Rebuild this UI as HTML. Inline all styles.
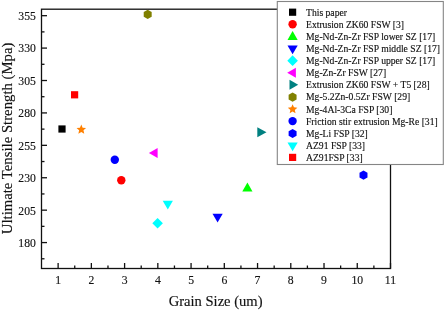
<!DOCTYPE html>
<html><head><meta charset="utf-8"><style>
html,body{margin:0;padding:0;background:#fff;width:445px;height:310px;overflow:hidden}
svg{display:block;will-change:transform}
text{font-family:"Liberation Serif",serif;fill:#111;stroke:#111;stroke-width:0.15px}
</style></head><body>
<svg width="445" height="310" viewBox="0 0 445 310">
<rect x="41.5" y="9.2" width="349.0" height="259.3" fill="none" stroke="#111" stroke-width="1.3"/>
<line x1="41.5" y1="242.57" x2="47.0" y2="242.57" stroke="#111" stroke-width="1.3"/>
<text transform="translate(35.9,246.97) scale(0.9,1)" text-anchor="end" font-size="13">180</text>
<line x1="41.5" y1="210.16" x2="47.0" y2="210.16" stroke="#111" stroke-width="1.3"/>
<text transform="translate(35.9,214.56) scale(0.9,1)" text-anchor="end" font-size="13">205</text>
<line x1="41.5" y1="177.75" x2="47.0" y2="177.75" stroke="#111" stroke-width="1.3"/>
<text transform="translate(35.9,182.15) scale(0.9,1)" text-anchor="end" font-size="13">230</text>
<line x1="41.5" y1="145.33" x2="47.0" y2="145.33" stroke="#111" stroke-width="1.3"/>
<text transform="translate(35.9,149.73) scale(0.9,1)" text-anchor="end" font-size="13">255</text>
<line x1="41.5" y1="112.92" x2="47.0" y2="112.92" stroke="#111" stroke-width="1.3"/>
<text transform="translate(35.9,117.32) scale(0.9,1)" text-anchor="end" font-size="13">280</text>
<line x1="41.5" y1="80.51" x2="47.0" y2="80.51" stroke="#111" stroke-width="1.3"/>
<text transform="translate(35.9,84.91) scale(0.9,1)" text-anchor="end" font-size="13">305</text>
<line x1="41.5" y1="48.09" x2="47.0" y2="48.09" stroke="#111" stroke-width="1.3"/>
<text transform="translate(35.9,52.49) scale(0.9,1)" text-anchor="end" font-size="13">330</text>
<line x1="41.5" y1="15.68" x2="47.0" y2="15.68" stroke="#111" stroke-width="1.3"/>
<text transform="translate(35.9,20.08) scale(0.9,1)" text-anchor="end" font-size="13">355</text>
<line x1="41.5" y1="258.78" x2="44.5" y2="258.78" stroke="#111" stroke-width="1.3"/>
<line x1="41.5" y1="226.36" x2="44.5" y2="226.36" stroke="#111" stroke-width="1.3"/>
<line x1="41.5" y1="193.95" x2="44.5" y2="193.95" stroke="#111" stroke-width="1.3"/>
<line x1="41.5" y1="161.54" x2="44.5" y2="161.54" stroke="#111" stroke-width="1.3"/>
<line x1="41.5" y1="129.13" x2="44.5" y2="129.13" stroke="#111" stroke-width="1.3"/>
<line x1="41.5" y1="96.71" x2="44.5" y2="96.71" stroke="#111" stroke-width="1.3"/>
<line x1="41.5" y1="64.30" x2="44.5" y2="64.30" stroke="#111" stroke-width="1.3"/>
<line x1="41.5" y1="31.89" x2="44.5" y2="31.89" stroke="#111" stroke-width="1.3"/>
<line x1="58.12" y1="268.5" x2="58.12" y2="263.0" stroke="#111" stroke-width="1.3"/>
<text transform="translate(58.12,283.7) scale(0.9,1)" text-anchor="middle" font-size="13">1</text>
<line x1="91.36" y1="268.5" x2="91.36" y2="263.0" stroke="#111" stroke-width="1.3"/>
<text transform="translate(91.36,283.7) scale(0.9,1)" text-anchor="middle" font-size="13">2</text>
<line x1="124.60" y1="268.5" x2="124.60" y2="263.0" stroke="#111" stroke-width="1.3"/>
<text transform="translate(124.60,283.7) scale(0.9,1)" text-anchor="middle" font-size="13">3</text>
<line x1="157.83" y1="268.5" x2="157.83" y2="263.0" stroke="#111" stroke-width="1.3"/>
<text transform="translate(157.83,283.7) scale(0.9,1)" text-anchor="middle" font-size="13">4</text>
<line x1="191.07" y1="268.5" x2="191.07" y2="263.0" stroke="#111" stroke-width="1.3"/>
<text transform="translate(191.07,283.7) scale(0.9,1)" text-anchor="middle" font-size="13">5</text>
<line x1="224.31" y1="268.5" x2="224.31" y2="263.0" stroke="#111" stroke-width="1.3"/>
<text transform="translate(224.31,283.7) scale(0.9,1)" text-anchor="middle" font-size="13">6</text>
<line x1="257.55" y1="268.5" x2="257.55" y2="263.0" stroke="#111" stroke-width="1.3"/>
<text transform="translate(257.55,283.7) scale(0.9,1)" text-anchor="middle" font-size="13">7</text>
<line x1="290.79" y1="268.5" x2="290.79" y2="263.0" stroke="#111" stroke-width="1.3"/>
<text transform="translate(290.79,283.7) scale(0.9,1)" text-anchor="middle" font-size="13">8</text>
<line x1="324.02" y1="268.5" x2="324.02" y2="263.0" stroke="#111" stroke-width="1.3"/>
<text transform="translate(324.02,283.7) scale(0.9,1)" text-anchor="middle" font-size="13">9</text>
<line x1="357.26" y1="268.5" x2="357.26" y2="263.0" stroke="#111" stroke-width="1.3"/>
<text transform="translate(357.26,283.7) scale(0.9,1)" text-anchor="middle" font-size="13">10</text>
<line x1="390.50" y1="268.5" x2="390.50" y2="263.0" stroke="#111" stroke-width="1.3"/>
<text transform="translate(390.50,283.7) scale(0.9,1)" text-anchor="middle" font-size="13">11</text>
<line x1="74.74" y1="268.5" x2="74.74" y2="265.5" stroke="#111" stroke-width="1.3"/>
<line x1="107.98" y1="268.5" x2="107.98" y2="265.5" stroke="#111" stroke-width="1.3"/>
<line x1="141.21" y1="268.5" x2="141.21" y2="265.5" stroke="#111" stroke-width="1.3"/>
<line x1="174.45" y1="268.5" x2="174.45" y2="265.5" stroke="#111" stroke-width="1.3"/>
<line x1="207.69" y1="268.5" x2="207.69" y2="265.5" stroke="#111" stroke-width="1.3"/>
<line x1="240.93" y1="268.5" x2="240.93" y2="265.5" stroke="#111" stroke-width="1.3"/>
<line x1="274.17" y1="268.5" x2="274.17" y2="265.5" stroke="#111" stroke-width="1.3"/>
<line x1="307.40" y1="268.5" x2="307.40" y2="265.5" stroke="#111" stroke-width="1.3"/>
<line x1="340.64" y1="268.5" x2="340.64" y2="265.5" stroke="#111" stroke-width="1.3"/>
<line x1="373.88" y1="268.5" x2="373.88" y2="265.5" stroke="#111" stroke-width="1.3"/>
<text transform="translate(215.6,306.3) scale(0.96,1)" text-anchor="middle" font-size="15.2">Grain Size (um)</text>
<text transform="translate(12,138.4) rotate(-90)" text-anchor="middle" font-size="14.75">Ultimate Tensile Strength (Mpa)</text>
<rect x="58.40" y="125.40" width="7.2" height="7.2" fill="#000"/>
<circle cx="121.30" cy="180.20" r="4.2" fill="#ff0000"/>
<polygon points="247.40,182.60 252.50,191.40 242.30,191.40" fill="#00ff00"/>
<polygon points="212.50,213.80 222.70,213.80 217.60,222.60" fill="#0000ff"/>
<polygon points="157.60,217.90 162.90,223.20 157.60,228.50 152.30,223.20" fill="#00ffff"/>
<polygon points="148.90,153.00 157.60,148.10 157.60,157.90" fill="#ff00ff"/>
<polygon points="257.30,127.30 266.50,132.30 257.30,137.30" fill="#008080"/>
<polygon points="147.70,9.80 143.72,12.10 143.72,16.70 147.70,19.00 151.68,16.70 151.68,12.10" fill="#808000"/>
<polygon points="81.30,124.60 82.65,127.74 86.06,128.05 83.49,130.31 84.24,133.65 81.30,131.90 78.36,133.65 79.11,130.31 76.54,128.05 79.95,127.74" fill="#ff8000"/>
<circle cx="114.80" cy="159.80" r="4.2" fill="#0000ff"/>
<polygon points="363.50,170.50 359.52,172.80 359.52,177.40 363.50,179.70 367.48,177.40 367.48,172.80" fill="#0000ff"/>
<polygon points="162.70,200.80 172.90,200.80 167.80,209.60" fill="#00ffff"/>
<rect x="71.00" y="91.20" width="7.2" height="7.2" fill="#ff0000"/>
<rect x="277.3" y="1.5" width="166" height="163" fill="#fff" stroke="#858585" stroke-width="1.1"/>
<text transform="translate(306.0,15.70) scale(0.91,1)" font-size="10.6">This paper</text>
<text transform="translate(306.0,27.80) scale(0.91,1)" font-size="10.6">Extrusion ZK60 FSW [3]</text>
<text transform="translate(306.0,39.90) scale(0.91,1)" font-size="10.6">Mg-Nd-Zn-Zr FSP lower SZ [17]</text>
<text transform="translate(306.0,52.00) scale(0.91,1)" font-size="10.6">Mg-Nd-Zn-Zr FSP middle SZ [17]</text>
<text transform="translate(306.0,64.10) scale(0.91,1)" font-size="10.6">Mg-Nd-Zn-Zr FSP upper SZ [17]</text>
<text transform="translate(306.0,76.20) scale(0.91,1)" font-size="10.6">Mg-Zn-Zr FSW [27]</text>
<text transform="translate(306.0,88.30) scale(0.91,1)" font-size="10.6">Extrusion ZK60 FSW + T5 [28]</text>
<text transform="translate(306.0,100.40) scale(0.91,1)" font-size="10.6">Mg-5.2Zn-0.5Zr FSW [29]</text>
<text transform="translate(306.0,112.50) scale(0.91,1)" font-size="10.6">Mg-4Al-3Ca FSP [30]</text>
<text transform="translate(306.0,124.60) scale(0.91,1)" font-size="10.6">Friction stir extrusion Mg-Re [31]</text>
<text transform="translate(306.0,136.70) scale(0.91,1)" font-size="10.6">Mg-Li FSP [32]</text>
<text transform="translate(306.0,148.80) scale(0.91,1)" font-size="10.6">AZ91 FSP [33]</text>
<text transform="translate(306.0,160.90) scale(0.91,1)" font-size="10.6">AZ91FSP [33]</text>
<rect x="289.00" y="8.60" width="7.2" height="7.2" fill="#000"/>
<circle cx="292.60" cy="24.20" r="4.2" fill="#ff0000"/>
<polygon points="292.60,31.10 297.70,39.90 287.50,39.90" fill="#00ff00"/>
<polygon points="287.50,45.40 297.70,45.40 292.60,54.20" fill="#0000ff"/>
<polygon points="292.60,55.35 297.90,60.65 292.60,65.95 287.30,60.65" fill="#00ffff"/>
<polygon points="287.20,72.75 295.90,67.85 295.90,77.65" fill="#ff00ff"/>
<polygon points="289.50,79.85 298.20,84.75 289.50,89.65" fill="#008080"/>
<polygon points="292.60,92.50 288.62,94.80 288.62,99.40 292.60,101.70 296.58,99.40 296.58,94.80" fill="#808000"/>
<polygon points="292.60,104.20 293.95,107.34 297.36,107.65 294.79,109.91 295.54,113.25 292.60,111.50 289.66,113.25 290.41,109.91 287.84,107.65 291.25,107.34" fill="#ff8000"/>
<circle cx="292.60" cy="121.10" r="4.2" fill="#0000ff"/>
<polygon points="292.60,128.90 288.62,131.20 288.62,135.80 292.60,138.10 296.58,135.80 296.58,131.20" fill="#0000ff"/>
<polygon points="287.50,142.40 297.70,142.40 292.60,151.20" fill="#00ffff"/>
<rect x="289.00" y="153.80" width="7.2" height="7.2" fill="#ff0000"/>
</svg>
</body></html>
